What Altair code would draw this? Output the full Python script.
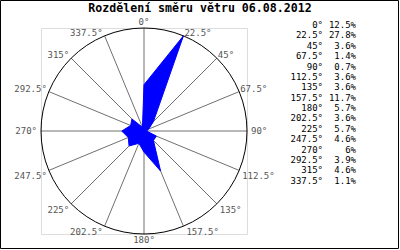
import altair as alt
import pandas as pd

# ---- data ----
angles = [0, 22.5, 45, 67.5, 90, 112.5, 135, 157.5, 180, 202.5, 225, 247.5, 270, 292.5, 315, 337.5]
angle_labels = ["0°", "22.5°", "45°", "67.5°", "90°", "112.5°", "135°", "157.5°",
                "180°", "202.5°", "225°", "247.5°", "270°", "292.5°", "315°", "337.5°"]
pcts = [12.5, 27.8, 3.6, 1.4, 0.7, 3.6, 3.6, 11.7, 5.7, 3.6, 5.7, 4.6, 6, 3.9, 4.6, 1.1]
pct_labels = ["12.5%", "27.8%", "3.6%", "1.4%", "0.7%", "3.6%", "3.6%", "11.7%",
              "5.7%", "3.6%", "5.7%", "4.6%", "6%", "3.9%", "4.6%", "1.1%"]
title_text = "Rozdělení směru větru 06.08.2012"

df = pd.DataFrame({
    "angle": angles,
    "label": angle_labels,
    "pct": pcts,
    "pctlabel": pct_labels,
    "idx": list(range(len(angles))),
})

RMAX = max(pcts)
W = 206
R_PX = W / 2
FONT = "DejaVu Sans Mono"

xs = alt.Scale(domain=[-RMAX, RMAX], nice=False, zero=False)
ys = alt.Scale(domain=[-RMAX, RMAX], nice=False, zero=False)

base = alt.Chart(df).transform_calculate(
    rad="datum.angle * PI / 180",
    z="0",
).transform_calculate(
    px="datum.pct * sin(datum.rad)",
    py="datum.pct * cos(datum.rad)",
    ex=f"{RMAX} * sin(datum.rad)",
    ey=f"{RMAX} * cos(datum.rad)",
)

spokes = base.mark_rule(color="#707070", strokeWidth=1).encode(
    x=alt.X("z:Q", scale=xs, axis=None),
    y=alt.Y("z:Q", scale=ys, axis=None),
    x2="ex:Q",
    y2="ey:Q",
)

circle = alt.Chart(pd.DataFrame({"c": [0]})).mark_arc(
    theta=0, theta2=6.2832, radius=R_PX, fillOpacity=0, stroke="black", strokeWidth=1
).encode(
    x=alt.X("c:Q", scale=xs, axis=None),
    y=alt.Y("c:Q", scale=ys, axis=None),
)

polygon = base.mark_line(
    interpolate="linear-closed", color="#0000ff", fill="#0000ff", strokeWidth=1
).encode(
    x=alt.X("px:Q", scale=xs, axis=None),
    y=alt.Y("py:Q", scale=ys, axis=None),
    order=alt.Order("angle:Q"),
)

groups = [
    ("datum.angle == 0", "center", "alphabetic", 0, -3),
    ("datum.angle > 0 && datum.angle < 90", "left", "alphabetic", 1, 0),
    ("datum.angle == 90", "left", "middle", 4, 0),
    ("datum.angle > 90 && datum.angle < 180", "left", "top", 3, 2),
    ("datum.angle == 180", "center", "top", 0, 2),
    ("datum.angle > 180 && datum.angle < 270", "right", "top", -2, 2),
    ("datum.angle == 270", "right", "middle", -4, 0),
    ("datum.angle > 270", "right", "alphabetic", -2, 0),
]
label_layers = []
for cond, al, bl, dx, dy in groups:
    label_layers.append(
        base.transform_filter(cond).mark_text(
            align=al, baseline=bl, dx=dx, dy=dy, font=FONT, fontSize=9, color="#555555"
        ).encode(
            x=alt.X("ex:Q", scale=xs, axis=None),
            y=alt.Y("ey:Q", scale=ys, axis=None),
            text="label:N",
        )
    )

leg_base = alt.Chart(df).transform_calculate(ly="datum.idx * 10.38 - 3")
leg_angle = leg_base.mark_text(
    align="right", baseline="middle", font=FONT, fontSize=9, color="black"
).encode(x=alt.value(282), y=alt.Y("ly:Q", scale=None, axis=None), text="label:N")
leg_pct = leg_base.mark_text(
    align="right", baseline="middle", font=FONT, fontSize=9, color="black"
).encode(x=alt.value(315), y=alt.Y("ly:Q", scale=None, axis=None), text="pctlabel:N")

one = pd.DataFrame({"t": [title_text]})
title = alt.Chart(one).mark_text(
    align="center", baseline="alphabetic", font=FONT, fontSize=11.6, fontWeight="bold", color="black"
).encode(x=alt.value(159), y=alt.value(-16), text="t:N")

border = alt.Chart(one).mark_rect(fillOpacity=0, stroke="black", strokeWidth=1).encode(
    x=alt.value(-40.5), x2=alt.value(357.5), y=alt.value(-27.5), y2=alt.value(220.5)
)

chart = alt.layer(
    spokes, circle, polygon, *label_layers, leg_angle, leg_pct, title, border
).resolve_scale(y="independent", x="independent").properties(
    width=W, height=W,
    autosize=alt.AutoSizeParams(type="none"),
    padding={"left": 41, "top": 28, "right": 153, "bottom": 16},
).configure_view(stroke=None).configure(background="white")

chart.save("out.html", embed_options={"renderer": "svg", "actions": False})
